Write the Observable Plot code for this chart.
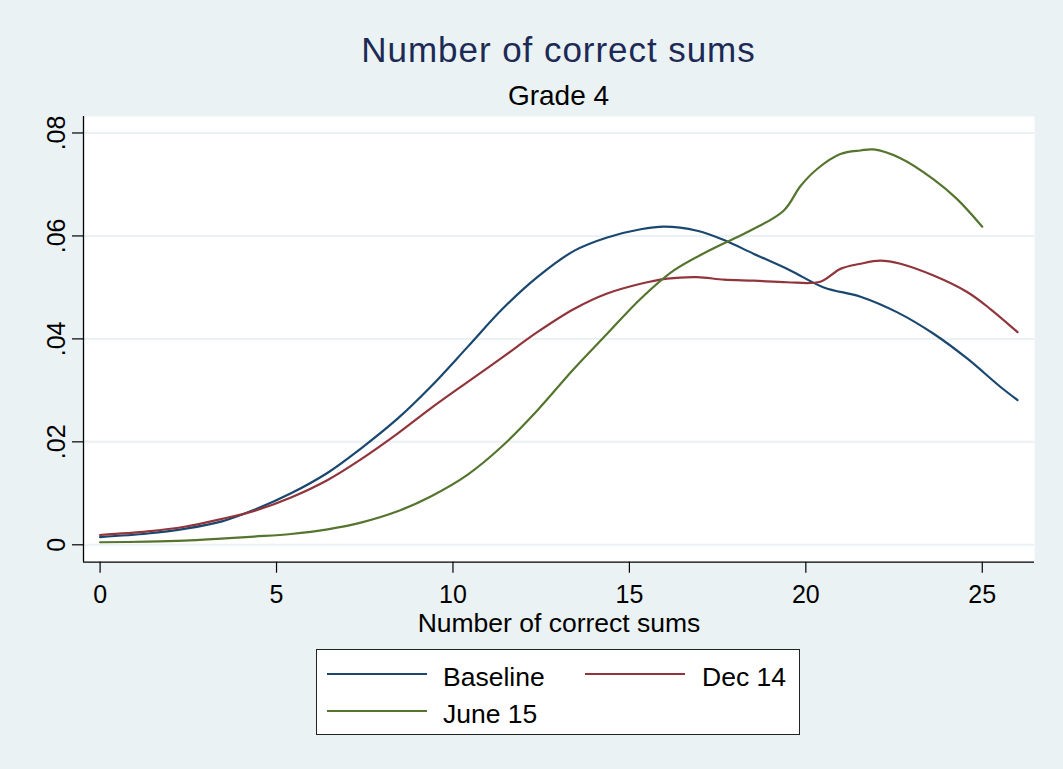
<!DOCTYPE html>
<html>
<head>
<meta charset="utf-8">
<script src="https://cdn.jsdelivr.net/npm/d3@7"></script>
<script src="https://cdn.jsdelivr.net/npm/@observablehq/plot@0.6"></script>
<style>
  html, body { margin: 0; padding: 0; }
  body { width: 1063px; height: 769px; background: #eaf2f3; position: relative; overflow: hidden;
         font-family: "Liberation Sans", Arial, Helvetica, sans-serif; }
  .t { position: absolute; white-space: nowrap; line-height: 1; }
  #title { left: 83px; width: 951px; text-align: center; top: 32px; font-size: 35px; letter-spacing: 0.95px; color: #1c2a55; }
  #subtitle { left: 83px; width: 951px; text-align: center; top: 82px; font-size: 28px; color: #000; }
  #chart { position: absolute; left: 0; top: 110px; }
  #legend { position: absolute; left: 316px; top: 649px; width: 482px; height: 84px; background: #fff;
            border: 1.5px solid #222; }
  .sw { position: absolute; height: 2.4px; width: 100px; }
  .lt { position: absolute; font-size: 26.5px; line-height: 1; white-space: nowrap; color: #000; }
</style>
</head>
<body>
<div id="title" class="t">Number of correct sums</div>
<div id="subtitle" class="t">Grade 4</div>
<div id="chart"></div>
<div id="legend"></div>
<script>
// ---- data ----
const seriesNames = ["Baseline", "Dec 14", "June 15"];
const seriesColors = ["#1a476f", "#90353b", "#55752f"];

const baselineX = [0, 1.35, 2.39, 3.43, 4.37, 5.41, 6.45, 7.39, 8.43, 9.37, 10.41, 11.40, 12.39, 13.43, 14.37, 15.32, 15.98, 16.92, 17.68, 18.53, 19.56, 20.51, 21.55, 22.58, 23.62, 24.57, 25.51, 26.0];
const baselineY = [0.0015, 0.0022, 0.0031, 0.0045, 0.0068, 0.0100, 0.0140, 0.0187, 0.0245, 0.0307, 0.0384, 0.0458, 0.0520, 0.0571, 0.0597, 0.0613, 0.0618, 0.0610, 0.0592, 0.0565, 0.0533, 0.0500, 0.0482, 0.0452, 0.0410, 0.0362, 0.0307, 0.0281];

const dec14X = [0, 1.35, 2.39, 3.43, 4.37, 5.41, 6.45, 7.39, 8.43, 9.37, 10.41, 11.40, 12.39, 13.43, 14.37, 15.32, 16.07, 16.92, 17.68, 18.53, 19.47, 20.41, 20.98, 21.55, 22.11, 22.68, 23.62, 24.57, 25.23, 26.0];
const dec14Y = [0.0019, 0.0026, 0.0035, 0.0050, 0.0066, 0.0092, 0.0126, 0.0166, 0.0216, 0.0265, 0.0316, 0.0364, 0.0413, 0.0458, 0.0488, 0.0507, 0.0517, 0.0520, 0.0515, 0.0513, 0.0510, 0.0511, 0.0536, 0.0546, 0.0552, 0.0546, 0.0523, 0.0491, 0.0458, 0.0413];

const june15X = [0, 1.35, 2.39, 3.43, 4.37, 5.41, 6.45, 7.39, 8.43, 9.37, 10.41, 11.40, 12.39, 13.43, 14.37, 15.32, 16.26, 17.39, 18.33, 19.37, 19.85, 20.32, 20.98, 21.55, 21.92, 22.68, 23.62, 24.28, 25.0];
const june15Y = [0.0005, 0.0006, 0.0008, 0.0012, 0.0016, 0.0021, 0.0030, 0.0043, 0.0065, 0.0094, 0.0136, 0.0192, 0.0261, 0.0342, 0.0410, 0.0478, 0.0533, 0.0576, 0.0607, 0.0649, 0.0697, 0.0730, 0.0759, 0.0766, 0.0768, 0.0751, 0.0710, 0.0672, 0.0618];

const xTicks = [0, 5, 10, 15, 20, 25];
const yTicks = [0, 0.02, 0.04, 0.06, 0.08];
const yTickLabels = ["0", ".02", ".04", ".06", ".08"];
const xLabel = "Number of correct sums";

// ---- build table ----
const rows = [];
[[baselineX, baselineY], [dec14X, dec14Y], [june15X, june15Y]].forEach(([xs, ys], i) => {
  xs.forEach((x, j) => rows.push({series: seriesNames[i], x, y: ys[j]}));
});

const xDomain = [-0.47, 26.48];
const yDomain = [-0.00338, 0.0832];
const font = '"Liberation Sans", Arial, Helvetica, sans-serif';

const chart = Plot.plot({
  width: 1063,
  height: 530,
  marginLeft: 83,
  marginRight: 29,
  marginTop: 6,
  marginBottom: 78.3,
  style: {background: "transparent", fontFamily: font, fontSize: "25px", color: "#000", overflow: "visible"},
  x: {domain: xDomain},
  y: {domain: yDomain},
  color: {domain: seriesNames, range: seriesColors},
  marks: [
    Plot.frame({fill: "white", stroke: "none"}),
    Plot.gridY(yTicks, {stroke: "#eaf2f3", strokeOpacity: 1, strokeWidth: 2}),
    Plot.line(rows, {x: "x", y: "y", z: "series", stroke: "series", strokeWidth: 2.2, curve: "catmull-rom"}),
    Plot.ruleX([xDomain[0]], {stroke: "#000", strokeWidth: 1.3}),
    Plot.ruleY([yDomain[0]], {stroke: "#000", strokeWidth: 1.3}),
    Plot.axisX(xTicks, {tickSize: 11, tickPadding: 12, stroke: "#000", strokeWidth: 1.2, fontSize: 25, label: null}),
    Plot.axisY(yTicks, {tickSize: 11, tickPadding: 8, tickRotate: -90, stroke: "#000", strokeWidth: 1.2, fontSize: 25,
      tickFormat: (d) => yTickLabels[yTicks.indexOf(d)], label: null}),
    Plot.text([xLabel], {frameAnchor: "bottom", textAnchor: "middle", lineAnchor: "bottom", dy: 70, fontSize: 26.5, fill: "#000"})
  ]
});
document.getElementById("chart").appendChild(chart);

// ---- legend ----
const legend = document.getElementById("legend");
const legendPos = [
  {lx: 10, ly: 23, tx: 126, ty: 14},
  {lx: 268, ly: 23, tx: 385, ty: 14},
  {lx: 10, ly: 60, tx: 126, ty: 51}
];
seriesNames.forEach((name, i) => {
  const p = legendPos[i];
  const sw = document.createElement("div");
  sw.className = "sw";
  sw.style.left = p.lx + "px";
  sw.style.top = p.ly + "px";
  sw.style.background = seriesColors[i];
  legend.appendChild(sw);
  const t = document.createElement("div");
  t.className = "lt";
  t.style.left = p.tx + "px";
  t.style.top = p.ty + "px";
  t.textContent = name;
  legend.appendChild(t);
});
</script>
</body>
</html>
